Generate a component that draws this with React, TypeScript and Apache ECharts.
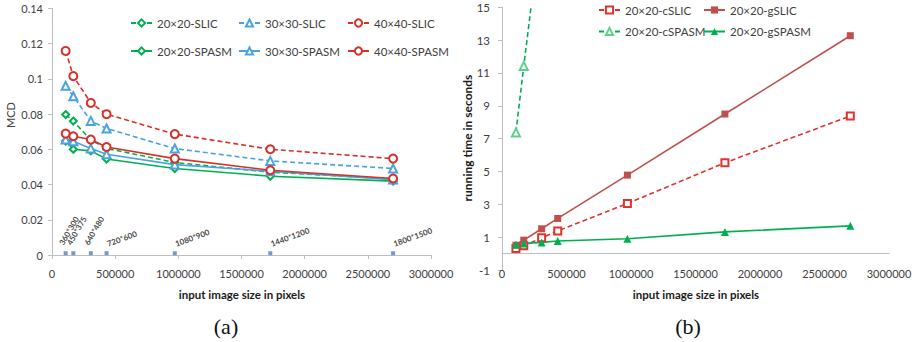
import React, { useEffect, useRef } from 'react';
import * as echarts from 'echarts';

// ---------- data ----------
const pixelCounts = [108000, 168750, 307200, 432000, 972000, 1728000, 2700000];
const sizeLabels = ['360*300', '450*375', '640*480', '720*600', '1080*900', '1440*1200', '1800*1500'];
const sizeMarkerMcd = [0.001, 0.001, 0.001, 0.001, 0.001, 0.001, 0.001];

// (a) MCD
const mcd20Slic = [0.0797, 0.076, 0.0652, 0.0605, 0.0525, 0.047, 0.0432];
const mcd30Slic = [0.096, 0.0901, 0.0761, 0.0718, 0.0604, 0.0534, 0.0491];
const mcd40Slic = [0.1158, 0.1015, 0.0863, 0.0799, 0.0686, 0.06, 0.0547];
const mcd20Spasm = [0.0647, 0.06, 0.0591, 0.0545, 0.0491, 0.0447, 0.0419];
const mcd30Spasm = [0.0655, 0.0645, 0.0605, 0.0572, 0.0513, 0.0475, 0.0428];
const mcd40Spasm = [0.0689, 0.0674, 0.0655, 0.0613, 0.0547, 0.0481, 0.0434];

// (b) running time (s)
const time20cSlic = [0.31, 0.47, 0.96, 1.38, 3.05, 5.53, 8.38];
const time20gSlic = [0.51, 0.82, 1.51, 2.14, 4.78, 8.5, 13.27];
const time20cSpasm = [7.38, 11.43, 20.2, 28.4, 64, 114, 178];
const time20gSpasm = [0.55, 0.62, 0.68, 0.77, 0.9, 1.32, 1.69];

const mcdTicks = [0, 0.02, 0.04, 0.06, 0.08, 0.1, 0.12, 0.14];
const timeTicks = [-1, 1, 3, 5, 7, 9, 11, 13, 15];

// ---------- style ----------
const FONT = 'Lato';
const GREEN = '#00b050';
const BLUE = '#4aa3df';
const RED = '#d8312c';
const GRED = '#c0504d';
const CRED = '#e0322f';
const LGREEN = '#5fd08a';
const AXIS = '#bfbfbf';
const LABEL = '#404040';

const zip = (ys: number[]) => pixelCounts.map((x, i) => [x, ys[i]]);

const lineSeries = (
  name: string,
  ys: number[],
  color: string,
  symbol: string,
  symbolSize: number,
  dashed: boolean,
  idx: number,
  symbolColor?: string,
) => ({
  type: 'line',
  name,
  xAxisIndex: idx,
  yAxisIndex: idx,
  data: zip(ys),
  symbol,
  symbolSize,
  showAllSymbol: true,
  lineStyle: { color, width: 1.6, type: dashed ? [5, 3] : 'solid' },
  itemStyle: { color: symbolColor || color, borderWidth: 1 },
  emphasis: { disabled: true },
  clip: true,
});

const legendAt = (name: string, left: number, top: number) => ({
  data: [name],
  left,
  top,
  padding: 0,
  itemWidth: 21,
  itemHeight: 9,
  selectedMode: false,
  textStyle: { fontFamily: FONT, fontSize: 11.5, color: LABEL },
});

const commonAxisLabel = { fontFamily: FONT, fontSize: 11, color: LABEL };

const option: any = {
  animation: false,
  backgroundColor: '#ffffff',
  textStyle: { fontFamily: FONT },
  grid: [
    { left: 52, top: 8.3, width: 379, height: 246.7 },
    { left: 502, top: 7.3, width: 387, height: 262.7 },
  ],
  xAxis: [
    {
      gridIndex: 0,
      type: 'value',
      min: 0,
      max: 3000000,
      interval: 500000,
      axisLine: { lineStyle: { color: AXIS } },
      axisTick: { show: true, length: 4, lineStyle: { color: AXIS } },
      splitLine: { show: false },
      axisLabel: { ...commonAxisLabel, margin: 13, formatter: (v: number) => String(v) },
    },
    {
      gridIndex: 1,
      type: 'value',
      min: 0,
      max: 3000000,
      interval: 500000,
      axisLine: { onZero: true, lineStyle: { color: AXIS } },
      axisTick: { show: false },
      splitLine: { show: false },
      axisLabel: { ...commonAxisLabel, margin: -2, formatter: (v: number) => String(v) },
    },
  ],
  yAxis: [
    {
      gridIndex: 0,
      type: 'value',
      min: 0,
      max: 0.14,
      interval: 0.02,
      axisLine: { show: true, lineStyle: { color: AXIS } },
      axisTick: { show: true, length: 4, lineStyle: { color: AXIS } },
      splitLine: { show: false },
      axisLabel: {
        ...commonAxisLabel,
        margin: 9,
        customValues: mcdTicks,
        formatter: (v: number) => (v === 0 ? '0' : String(+v.toFixed(2))),
      },
    },
    {
      gridIndex: 1,
      type: 'value',
      min: -1,
      max: 15,
      axisLine: { show: true, onZero: false, lineStyle: { color: AXIS } },
      axisTick: { show: true, length: 4, customValues: timeTicks, lineStyle: { color: AXIS } },
      splitLine: { show: false },
      axisLabel: { ...commonAxisLabel, fontSize: 11.5, margin: 12, customValues: timeTicks },
    },
  ],
  legend: [
    legendAt('20×20-SLIC', 130, 17),
    legendAt('30×30-SLIC', 238, 17),
    legendAt('40×40-SLIC', 347, 17),
    legendAt('20×20-SPASM', 130, 45),
    legendAt('30×30-SPASM', 238, 45),
    legendAt('40×40-SPASM', 347, 45),
    legendAt('20×20-cSLIC', 598, 4),
    legendAt('20×20-gSLIC', 703, 4),
    legendAt('20×20-cSPASM', 598, 25.5),
    legendAt('20×20-gSPASM', 703, 25.5),
  ],
  series: [
    lineSeries('20×20-SLIC', mcd20Slic, GREEN, 'emptyDiamond', 7, true, 0),
    lineSeries('30×30-SLIC', mcd30Slic, BLUE, 'emptyTriangle', 8, true, 0),
    lineSeries('40×40-SLIC', mcd40Slic, RED, 'emptyCircle', 8, true, 0),
    lineSeries('20×20-SPASM', mcd20Spasm, GREEN, 'emptyDiamond', 7, false, 0),
    lineSeries('30×30-SPASM', mcd30Spasm, BLUE, 'emptyTriangle', 8, false, 0),
    lineSeries('40×40-SPASM', mcd40Spasm, RED, 'emptyCircle', 8, false, 0),
    {
      type: 'scatter',
      name: 'image size',
      xAxisIndex: 0,
      yAxisIndex: 0,
      symbol: 'rect',
      symbolSize: 4,
      itemStyle: { color: '#4f81bd' },
      emphasis: { disabled: true },
      data: pixelCounts.map((x, i) => ({
        value: [x, sizeMarkerMcd[i]],
        name: sizeLabels[i],
        label: i < 3 ? { rotate: 60, position: [1, -5] } : { rotate: 20, position: [4, -3.5] },
      })),
      label: {
        show: true,
        formatter: '{b}',
        align: 'left',
        verticalAlign: 'bottom',
        fontFamily: FONT,
        fontSize: 8,
        fontWeight: 'bold',
        color: '#111111',
      },
    },
    lineSeries('20×20-cSLIC', time20cSlic, CRED, 'emptyRect', 7, true, 1),
    lineSeries('20×20-gSLIC', time20gSlic, GRED, 'rect', 7, false, 1),
    lineSeries('20×20-cSPASM', time20cSpasm, GREEN, 'emptyTriangle', 8, true, 1, LGREEN),
    lineSeries('20×20-gSPASM', time20gSpasm, GREEN, 'triangle', 8, false, 1),
  ],
  graphic: [
    {
      type: 'text',
      x: 10,
      y: 115,
      rotation: Math.PI / 2,
      style: { text: 'MCD', fontFamily: FONT, fontSize: 11, fill: LABEL, align: 'center', verticalAlign: 'middle' },
    },
    {
      type: 'text',
      x: 467,
      y: 138,
      rotation: Math.PI / 2,
      style: {
        text: 'running time in seconds',
        fontFamily: FONT,
        fontSize: 12,
        fontWeight: 'bold',
        fill: '#1a1a1a',
        align: 'center',
        verticalAlign: 'middle',
      },
    },
    {
      type: 'text',
      x: 242,
      y: 294,
      style: {
        text: 'input image size in pixels',
        fontFamily: FONT,
        fontSize: 11.5,
        fontWeight: 'bold',
        fill: '#1a1a1a',
        align: 'center',
        verticalAlign: 'middle',
      },
    },
    {
      type: 'text',
      x: 696,
      y: 294,
      style: {
        text: 'input image size in pixels',
        fontFamily: FONT,
        fontSize: 11.5,
        fontWeight: 'bold',
        fill: '#1a1a1a',
        align: 'center',
        verticalAlign: 'middle',
      },
    },
    {
      type: 'text',
      x: 226,
      y: 326,
      style: { text: '(a)', fontFamily: 'Liberation Serif', fontSize: 22, fill: '#111', align: 'center', verticalAlign: 'middle' },
    },
    {
      type: 'text',
      x: 688,
      y: 326,
      style: { text: '(b)', fontFamily: 'Liberation Serif', fontSize: 22, fill: '#111', align: 'center', verticalAlign: 'middle' },
    },
  ],
};

export default function App() {
  const ref = useRef<HTMLDivElement>(null);
  useEffect(() => {
    const chart = echarts.init(ref.current!, null, { renderer: 'svg', width: 915, height: 342 });
    chart.setOption(option);
    return () => chart.dispose();
  }, []);
  return (
    <div
      ref={ref}
      style={{ position: 'fixed', left: 0, top: 0, width: 915, height: 342, background: '#fff' }}
    />
  );
}
